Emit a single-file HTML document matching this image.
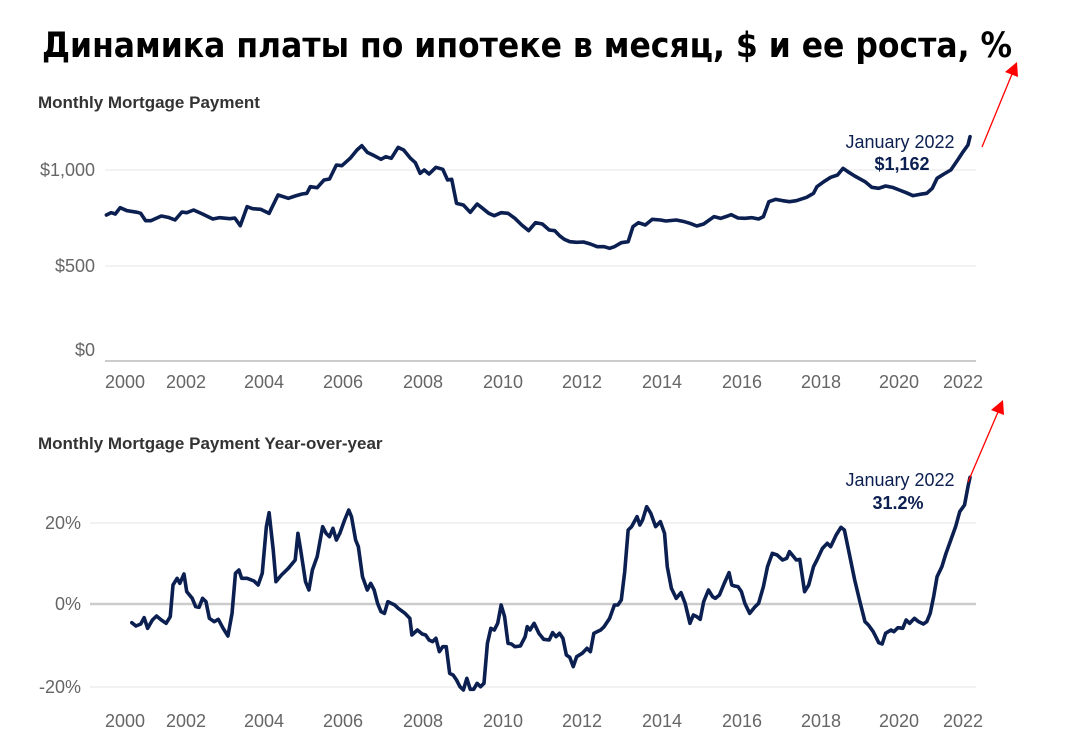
<!DOCTYPE html>
<html><head><meta charset="utf-8"><style>
body{margin:0;background:#fff}
svg{display:block}
text{font-family:"Liberation Sans","DejaVu Sans",sans-serif}
</style></head><body>
<svg width="1078" height="744" viewBox="0 0 1078 744" xmlns="http://www.w3.org/2000/svg">
<text x="527" y="57" text-anchor="middle" font-size="35" font-weight="bold" fill="#000" textLength="970" lengthAdjust="spacingAndGlyphs" style="font-family:'DejaVu Sans','Liberation Sans',sans-serif">Динамика платы по ипотеке в месяц, $ и ее роста, %</text>
<text x="38" y="108" font-size="17" font-weight="bold" fill="#333">Monthly Mortgage Payment</text>
<text x="38" y="449" font-size="17" font-weight="bold" fill="#333">Monthly Mortgage Payment Year-over-year</text>
<g stroke="#eee" stroke-width="1.5">
<line x1="105" x2="976" y1="170" y2="170"/><line x1="105" x2="976" y1="266" y2="266"/>
<line x1="90" x2="976" y1="523" y2="523"/><line x1="90" x2="976" y1="687" y2="687"/>
</g>
<line x1="105" x2="976" y1="361" y2="361" stroke="#ccc" stroke-width="2"/>
<line x1="90" x2="976" y1="604" y2="604" stroke="#ccc" stroke-width="2.5"/>
<g font-size="18" fill="#666" text-anchor="end">
<text x="95" y="176">$1,000</text><text x="95" y="272">$500</text><text x="95" y="356">$0</text>
<text x="81" y="529">20%</text><text x="81" y="610">0%</text><text x="81" y="693">-20%</text>
</g>
<g font-size="18" fill="#666" text-anchor="middle">
<text x="125" y="388">2000</text><text x="186" y="388">2002</text><text x="264" y="388">2004</text><text x="343" y="388">2006</text><text x="423" y="388">2008</text><text x="503" y="388">2010</text><text x="582" y="388">2012</text><text x="662" y="388">2014</text><text x="742" y="388">2016</text><text x="821" y="388">2018</text><text x="899" y="388">2020</text><text x="963" y="388">2022</text>
<text x="125" y="727">2000</text><text x="186" y="727">2002</text><text x="264" y="727">2004</text><text x="343" y="727">2006</text><text x="423" y="727">2008</text><text x="503" y="727">2010</text><text x="582" y="727">2012</text><text x="662" y="727">2014</text><text x="742" y="727">2016</text><text x="821" y="727">2018</text><text x="899" y="727">2020</text><text x="963" y="727">2022</text>
</g>
<g fill="none" stroke="#0b1f51" stroke-width="3.6" stroke-linejoin="round" stroke-linecap="round">
<g transform="translate(0,80) scale(0.6865,0.33333)">
<polyline vector-effect="non-scaling-stroke" points="155,405 162,398 168,402 175,383 185,392 200,397 205,400 212,422 220,422 235,408 245,412 255,420 265,396 272,398 282,390 295,402 310,417 320,413 335,416 342,414 350,437 360,380 368,386 380,388 392,400 405,345 420,355 430,348 440,342 447,340 452,320 462,323 472,300 480,297 490,255 498,257 510,235 520,210 527,197 535,217 545,227 555,238 562,230 570,235 580,202 588,210 598,235 605,248 612,280 618,270 625,282 635,262 645,268 652,300 658,298 665,370 675,375 685,397 695,372 700,380 712,400 720,407 730,398 740,400 750,415 760,435 770,452 780,428 790,432 800,450 808,452 815,467 822,478 830,485 840,487 850,486 860,492 870,500 880,500 888,505 895,500 905,488 915,485 922,440 930,428 940,435 950,418 962,420 970,423 985,420 995,424 1005,430 1015,438 1025,432 1040,410 1050,415 1060,408 1065,404 1075,414 1085,415 1095,413 1105,417 1112,410 1120,365 1130,358 1140,362 1150,365 1160,362 1175,352 1185,340 1190,320 1200,305 1210,292 1220,285 1228,265 1235,275 1245,288 1260,305 1270,322 1280,325 1290,318 1300,322 1310,330 1320,338 1330,347 1340,343 1350,340 1358,325 1365,295 1375,282 1385,270 1395,240 1403,215 1410,195 1413,170"/>
</g>
<g transform="translate(0,420) scale(0.6865,0.33333)">
<polyline vector-effect="non-scaling-stroke" points="192,608 198,618 205,612 210,593 215,625 222,600 228,588 235,600 242,610 248,590 252,495 258,475 262,490 268,462 272,515 280,535 285,560 290,562 295,535 300,545 305,595 312,605 318,598 325,625 332,648 338,580 343,460 348,450 352,475 360,475 370,483 376,495 382,460 388,320 392,278 398,390 402,485 410,465 420,445 430,420 434,340 438,390 445,485 450,510 455,450 462,410 470,320 475,340 480,350 485,325 490,360 495,340 502,300 508,270 512,290 518,360 522,380 528,470 535,510 540,490 545,510 550,550 555,575 560,580 565,545 570,550 575,555 580,565 590,580 597,595 600,645 608,630 615,642 620,645 625,660 630,665 635,655 640,695 645,680 650,680 655,760 660,765 665,780 670,800 675,810 680,775 685,808 690,808 695,790 700,800 705,790 710,670 715,625 720,630 725,610 730,555 735,590 740,670 745,672 750,680 758,678 765,650 768,620 772,630 778,610 785,640 792,658 800,660 805,638 810,650 815,640 820,655 825,705 830,712 835,740 840,710 848,700 855,685 860,695 865,640 870,635 875,630 880,620 888,595 895,555 900,555 905,540 910,455 915,330 920,320 928,290 932,315 936,300 942,260 948,280 955,320 962,305 968,340 972,440 978,505 985,535 992,518 998,550 1005,610 1010,585 1015,590 1020,598 1025,545 1032,510 1038,530 1042,535 1048,525 1055,490 1062,458 1066,495 1070,498 1075,500 1080,515 1085,550 1092,580 1100,560 1105,550 1112,500 1118,440 1125,400 1132,405 1140,420 1146,415 1150,395 1156,410 1160,420 1165,418 1172,515 1178,495 1185,440 1190,420 1198,385 1205,370 1210,380 1218,345 1225,322 1230,330 1238,410 1245,480 1252,540 1260,605 1265,615 1272,635 1280,668 1285,672 1290,640 1298,630 1302,635 1308,623 1315,625 1320,600 1325,610 1332,595 1338,605 1345,612 1350,605 1355,580 1360,530 1365,470 1372,440 1378,400 1385,360 1392,320 1398,275 1405,255 1410,200 1413,172"/>
</g>
</g>
<g fill="#0b1f51" text-anchor="middle" font-size="18">
<text x="900" y="148">January 2022</text>
<text x="902" y="170" font-weight="bold">$1,162</text>
<text x="900" y="486">January 2022</text>
<text x="898" y="509" font-weight="bold">31.2%</text>
</g>
<g stroke="#f00" stroke-width="1.3" fill="#f00">
<line x1="982" y1="147" x2="1012" y2="74"/>
<polygon points="1017,62 1005,72 1018,77" stroke="none"/>
<line x1="968" y1="482" x2="998" y2="412"/>
<polygon points="1003,400 991,410 1004,415" stroke="none"/>
</g>
</svg>
</body></html>
